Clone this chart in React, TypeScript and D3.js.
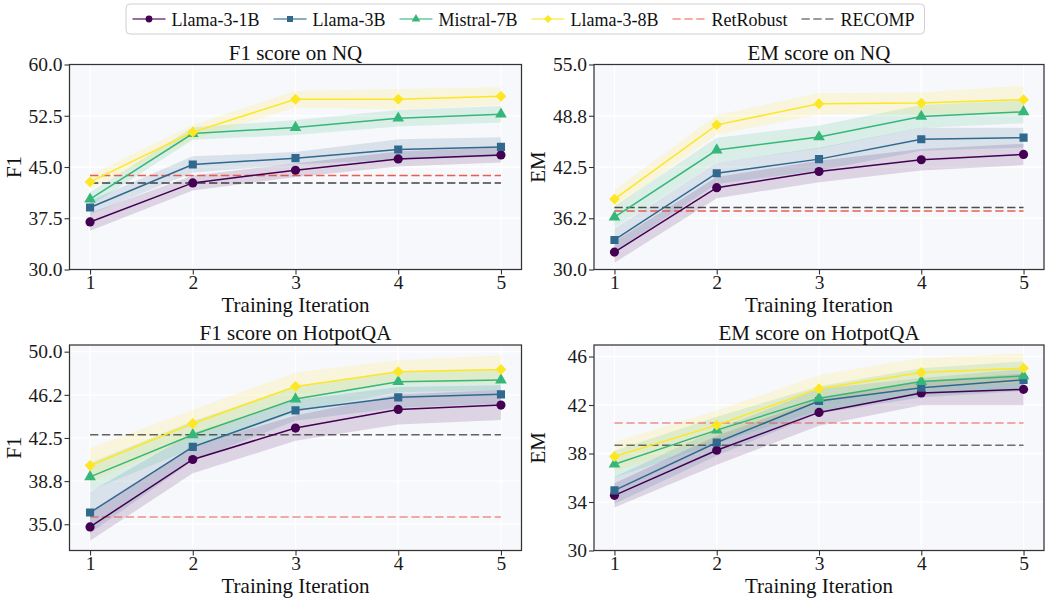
import React, { useEffect, useRef } from 'react';
import * as d3 from 'd3';

const ITERATIONS = [1, 2, 3, 4, 5];
const MODELS = ['Llama-3-1B', 'Llama-3B', 'Mistral-7B', 'Llama-3-8B'];
const BASELINES = ['RetRobust', 'RECOMP'];
const MODEL_COLORS = ['#440154', '#31688e', '#35b779', '#fde725'];
const BASELINE_COLORS = ['#e74c3c', '#222222'];

// F1 score on NQ
const nqF1_1B = [36.96, 42.67, 44.53, 46.18, 46.77];
const nqF1_3B = [39.07, 45.37, 46.29, 47.56, 47.94];
const nqF1_7B = [40.29, 49.9, 50.78, 52.14, 52.73];
const nqF1_8B = [42.82, 50.1, 54.92, 54.92, 55.36];
const nqF1_err_1B = [1.3, 1.1, 1.0, 1.1, 1.1];
const nqF1_err_3B = [1.0, 1.2, 0.9, 1.5, 1.4];
const nqF1_err_7B = [1.0, 0.9, 1.1, 1.2, 1.2];
const nqF1_err_8B = [1.0, 1.1, 1.2, 1.5, 1.3];
const nqF1_baselines = [43.76, 42.67];

// EM score on NQ
const nqEM_1B = [32.12, 39.98, 41.95, 43.38, 44.03];
const nqEM_3B = [33.6, 41.74, 43.46, 45.88, 46.08];
const nqEM_7B = [36.38, 44.57, 46.16, 48.66, 49.23];
const nqEM_8B = [38.59, 47.64, 50.21, 50.29, 50.71];
const nqEM_err_1B = [1.3, 1.3, 1.3, 1.3, 1.3];
const nqEM_err_3B = [1.4, 1.3, 1.4, 1.4, 1.2];
const nqEM_err_7B = [1.3, 1.5, 1.4, 1.4, 1.4];
const nqEM_err_8B = [1.1, 1.2, 1.3, 1.3, 1.7];
const nqEM_baselines = [37.12, 37.57];

// F1 score on HotpotQA
const hpF1_1B = [34.77, 40.63, 43.36, 44.98, 45.36];
const hpF1_3B = [36.02, 41.73, 44.9, 46.03, 46.29];
const hpF1_7B = [39.12, 42.78, 45.88, 47.39, 47.53];
const hpF1_8B = [40.11, 43.76, 46.98, 48.26, 48.46];
const hpF1_err_1B = [1.2, 1.2, 1.1, 1.3, 1.3];
const hpF1_err_3B = [1.8, 1.2, 0.9, 0.9, 0.8];
const hpF1_err_7B = [1.2, 1.2, 1.1, 0.9, 0.9];
const hpF1_err_8B = [1.5, 1.2, 1.2, 1.0, 1.2];
const hpF1_baselines = [35.64, 42.78];

// EM score on HotpotQA
const hpEM_1B = [34.55, 38.27, 41.39, 42.99, 43.29];
const hpEM_3B = [34.96, 38.91, 42.33, 43.43, 44.07];
const hpEM_7B = [37.12, 39.93, 42.55, 43.93, 44.4];
const hpEM_8B = [37.75, 40.34, 43.35, 44.68, 45.04];
const hpEM_err_1B = [1.0, 1.2, 1.1, 1.0, 1.3];
const hpEM_err_3B = [1.1, 1.1, 1.0, 0.8, 0.9];
const hpEM_err_7B = [1.1, 1.1, 1.0, 1.1, 1.2];
const hpEM_err_8B = [1.2, 1.2, 1.1, 1.2, 1.2];
const hpEM_baselines = [40.51, 38.69];

const nqF1Ticks = [30, 37.5, 45, 52.5, 60];
const nqF1TickLabels = ['30.0', '37.5', '45.0', '52.5', '60.0'];
const nqEMTicks = [30, 36.25, 42.5, 48.75, 55];
const nqEMTickLabels = ['30.0', '36.2', '42.5', '48.8', '55.0'];
const hpF1Ticks = [35, 38.75, 42.5, 46.25, 50];
const hpF1TickLabels = ['35.0', '38.8', '42.5', '46.2', '50.0'];
const hpEMTicks = [30, 34, 38, 42, 46];
const hpEMTickLabels = ['30', '34', '38', '42', '46'];

const FONT = '"Liberation Serif", "Times New Roman", serif';

const panels = [
  {
    title: 'F1 score on NQ', ylabel: 'F1', left: 69.5, top: 64.5, width: 452, height: 205,
    yDomain: [30, 60], ticks: nqF1Ticks, tickLabels: nqF1TickLabels,
    series: [nqF1_1B, nqF1_3B, nqF1_7B, nqF1_8B],
    errs: [nqF1_err_1B, nqF1_err_3B, nqF1_err_7B, nqF1_err_8B],
    baselines: nqF1_baselines, baseAlpha: [0.9, 0.85],
  },
  {
    title: 'EM score on NQ', ylabel: 'EM', left: 594, top: 64.5, width: 450, height: 205,
    yDomain: [30, 55], ticks: nqEMTicks, tickLabels: nqEMTickLabels,
    series: [nqEM_1B, nqEM_3B, nqEM_7B, nqEM_8B],
    errs: [nqEM_err_1B, nqEM_err_3B, nqEM_err_7B, nqEM_err_8B],
    baselines: nqEM_baselines, baseAlpha: [0.9, 0.8],
  },
  {
    title: 'F1 score on HotpotQA', ylabel: 'F1', left: 69.5, top: 345, width: 452, height: 205.5,
    yDomain: [32.72, 50.58], ticks: hpF1Ticks, tickLabels: hpF1TickLabels,
    series: [hpF1_1B, hpF1_3B, hpF1_7B, hpF1_8B],
    errs: [hpF1_err_1B, hpF1_err_3B, hpF1_err_7B, hpF1_err_8B],
    baselines: hpF1_baselines, baseAlpha: [0.6, 0.7],
  },
  {
    title: 'EM score on HotpotQA', ylabel: 'EM', left: 594, top: 345, width: 450, height: 205.5,
    yDomain: [30, 46.95], ticks: hpEMTicks, tickLabels: hpEMTickLabels,
    series: [hpEM_1B, hpEM_3B, hpEM_7B, hpEM_8B],
    errs: [hpEM_err_1B, hpEM_err_3B, hpEM_err_7B, hpEM_err_8B],
    baselines: hpEM_baselines, baseAlpha: [0.6, 0.65],
  },
];

const markerPath = (i: number, size: number) => {
  if (i === 0) return d3.symbol(d3.symbolCircle, size)();
  if (i === 1) return d3.symbol(d3.symbolSquare, size)();
  if (i === 2) return d3.symbol(d3.symbolTriangle, size * 0.9)();
  return d3.symbol(d3.symbolSquare, size * 0.95)();
};

const App = () => {
  const svgRef = useRef<SVGSVGElement>(null);

  useEffect(() => {
    const svg = d3.select(svgRef.current);
    svg.selectAll('*').remove();
    svg.append('rect').attr('width', 1048).attr('height', 600).attr('fill', '#fff');

    panels.forEach((p, pi) => {
      const x = d3.scaleLinear().domain([0.8, 5.2]).range([p.left, p.left + p.width]);
      const y = d3.scaleLinear().domain(p.yDomain).range([p.top + p.height, p.top]);
      const g = svg.append('g');
      const clipId = `clip-${pi}`;
      g.append('clipPath').attr('id', clipId)
        .append('rect').attr('x', p.left).attr('y', p.top).attr('width', p.width).attr('height', p.height);

      g.append('rect')
        .attr('x', p.left).attr('y', p.top).attr('width', p.width).attr('height', p.height)
        .attr('fill', '#f7f8fc');

      // grid
      const grid = g.append('g').attr('stroke', '#ffffff').attr('stroke-width', 1.3);
      p.ticks.forEach(t => {
        grid.append('line').attr('x1', p.left).attr('x2', p.left + p.width)
          .attr('y1', y(t)).attr('y2', y(t));
      });
      ITERATIONS.forEach(t => {
        grid.append('line').attr('x1', x(t)).attr('x2', x(t))
          .attr('y1', p.top).attr('y2', p.top + p.height);
      });

      const plot = g.append('g').attr('clip-path', `url(#${clipId})`);

      // shaded bands
      p.series.forEach((vals, si) => {
        const area = d3.area<number>()
          .x((_, i) => x(ITERATIONS[i]))
          .y0((d, i) => y(d - p.errs[si][i]))
          .y1((d, i) => y(d + p.errs[si][i]));
        plot.append('path').datum(vals).attr('d', area)
          .attr('fill', MODEL_COLORS[si]).attr('fill-opacity', 0.15);
      });

      // baselines
      p.baselines.forEach((v, bi) => {
        plot.append('line')
          .attr('x1', x(1)).attr('x2', x(5)).attr('y1', y(v)).attr('y2', y(v))
          .attr('stroke', BASELINE_COLORS[bi]).attr('stroke-opacity', p.baseAlpha[bi])
          .attr('stroke-width', 1.5).attr('stroke-dasharray', '8.3,3.6');
      });

      // series lines and markers
      p.series.forEach((vals, si) => {
        const line = d3.line<number>().x((_, i) => x(ITERATIONS[i])).y(d => y(d));
        plot.append('path').datum(vals).attr('d', line)
          .attr('fill', 'none').attr('stroke', MODEL_COLORS[si]).attr('stroke-width', 1.5);
        vals.forEach((v, i) => {
          plot.append('path')
            .attr('d', markerPath(si, si === 3 ? 62 : 66))
            .attr('transform', `translate(${x(ITERATIONS[i])},${y(v)})${si === 3 ? ' rotate(45)' : ''}`)
            .attr('fill', MODEL_COLORS[si]);
        });
      });

      // frame
      g.append('rect')
        .attr('x', p.left).attr('y', p.top).attr('width', p.width).attr('height', p.height)
        .attr('fill', 'none').attr('stroke', '#333').attr('stroke-width', 1.25);

      // axes
      const yAxis = g.append('g').attr('transform', `translate(${p.left},0)`)
        .call(d3.axisLeft(y).tickValues(p.ticks).tickFormat((_, i) => p.tickLabels[i]).tickSize(5).tickPadding(2));
      const xAxis = g.append('g').attr('transform', `translate(0,${p.top + p.height})`)
        .call(d3.axisBottom(x).tickValues(ITERATIONS).tickFormat(d3.format('d')).tickSize(5).tickPadding(0.5));
      [yAxis, xAxis].forEach(ax => {
        ax.select('.domain').remove();
        ax.selectAll('line').attr('stroke', '#333').attr('stroke-width', 1.1);
        ax.selectAll('text').attr('font-family', FONT).attr('font-size', 19.5).attr('fill', '#1a1a1a');
      });

      // title and labels
      g.append('text').attr('x', p.left + p.width / 2).attr('y', p.top - 5)
        .attr('text-anchor', 'middle').attr('font-family', FONT).attr('font-size', 21)
        .attr('fill', '#111').text(p.title);
      g.append('text').attr('x', p.left + p.width / 2).attr('y', p.top + p.height + 42)
        .attr('text-anchor', 'middle').attr('font-family', FONT).attr('font-size', 21)
        .attr('fill', '#111').text('Training Iteration');
      g.append('text')
        .attr('transform', `translate(${p.left - 49},${p.top + p.height / 2}) rotate(-90)`)
        .attr('text-anchor', 'middle').attr('font-family', FONT).attr('font-size', 21)
        .attr('fill', '#111').text(p.ylabel);
    });

    // legend
    const legend = svg.append('g');
    const box = legend.append('rect')
      .attr('y', 4).attr('height', 30).attr('rx', 4)
      .attr('fill', '#fff').attr('stroke', '#d0d0d0').attr('stroke-width', 1);
    const labels = [...MODELS, ...BASELINES];
    let cx = 132.5;
    labels.forEach((name, i) => {
      const yMid = 19;
      const item = legend.append('g');
      if (i < MODELS.length) {
        item.append('line').attr('x1', cx).attr('x2', cx + 33).attr('y1', yMid).attr('y2', yMid)
          .attr('stroke', MODEL_COLORS[i]).attr('stroke-opacity', 0.75).attr('stroke-width', 1.5);
        item.append('path').attr('d', markerPath(i, i === 3 ? 34 : 36))
          .attr('transform', `translate(${cx + 16.5},${yMid})${i === 3 ? ' rotate(45)' : ''}`)
          .attr('fill', MODEL_COLORS[i]);
      } else {
        const bi = i - MODELS.length;
        item.append('line').attr('x1', cx).attr('x2', cx + 33).attr('y1', yMid).attr('y2', yMid)
          .attr('stroke', BASELINE_COLORS[bi]).attr('stroke-opacity', 0.6)
          .attr('stroke-width', 1.5).attr('stroke-dasharray', '8.3,3.6');
      }
      const t = item.append('text').attr('x', cx + 39).attr('y', 25.5)
        .attr('font-family', FONT).attr('font-size', 18).attr('fill', '#111').text(name);
      const w = (t.node() as SVGTextElement).getComputedTextLength();
      cx += 39 + w + 14;
    });
    box.attr('x', 126).attr('width', cx - 14 + 10 - 126);
  }, []);

  return (
    <svg ref={svgRef} width={1048} height={600}
      style={{ position: 'absolute', left: 0, top: 0, display: 'block' }} />
  );
};

export default App;
